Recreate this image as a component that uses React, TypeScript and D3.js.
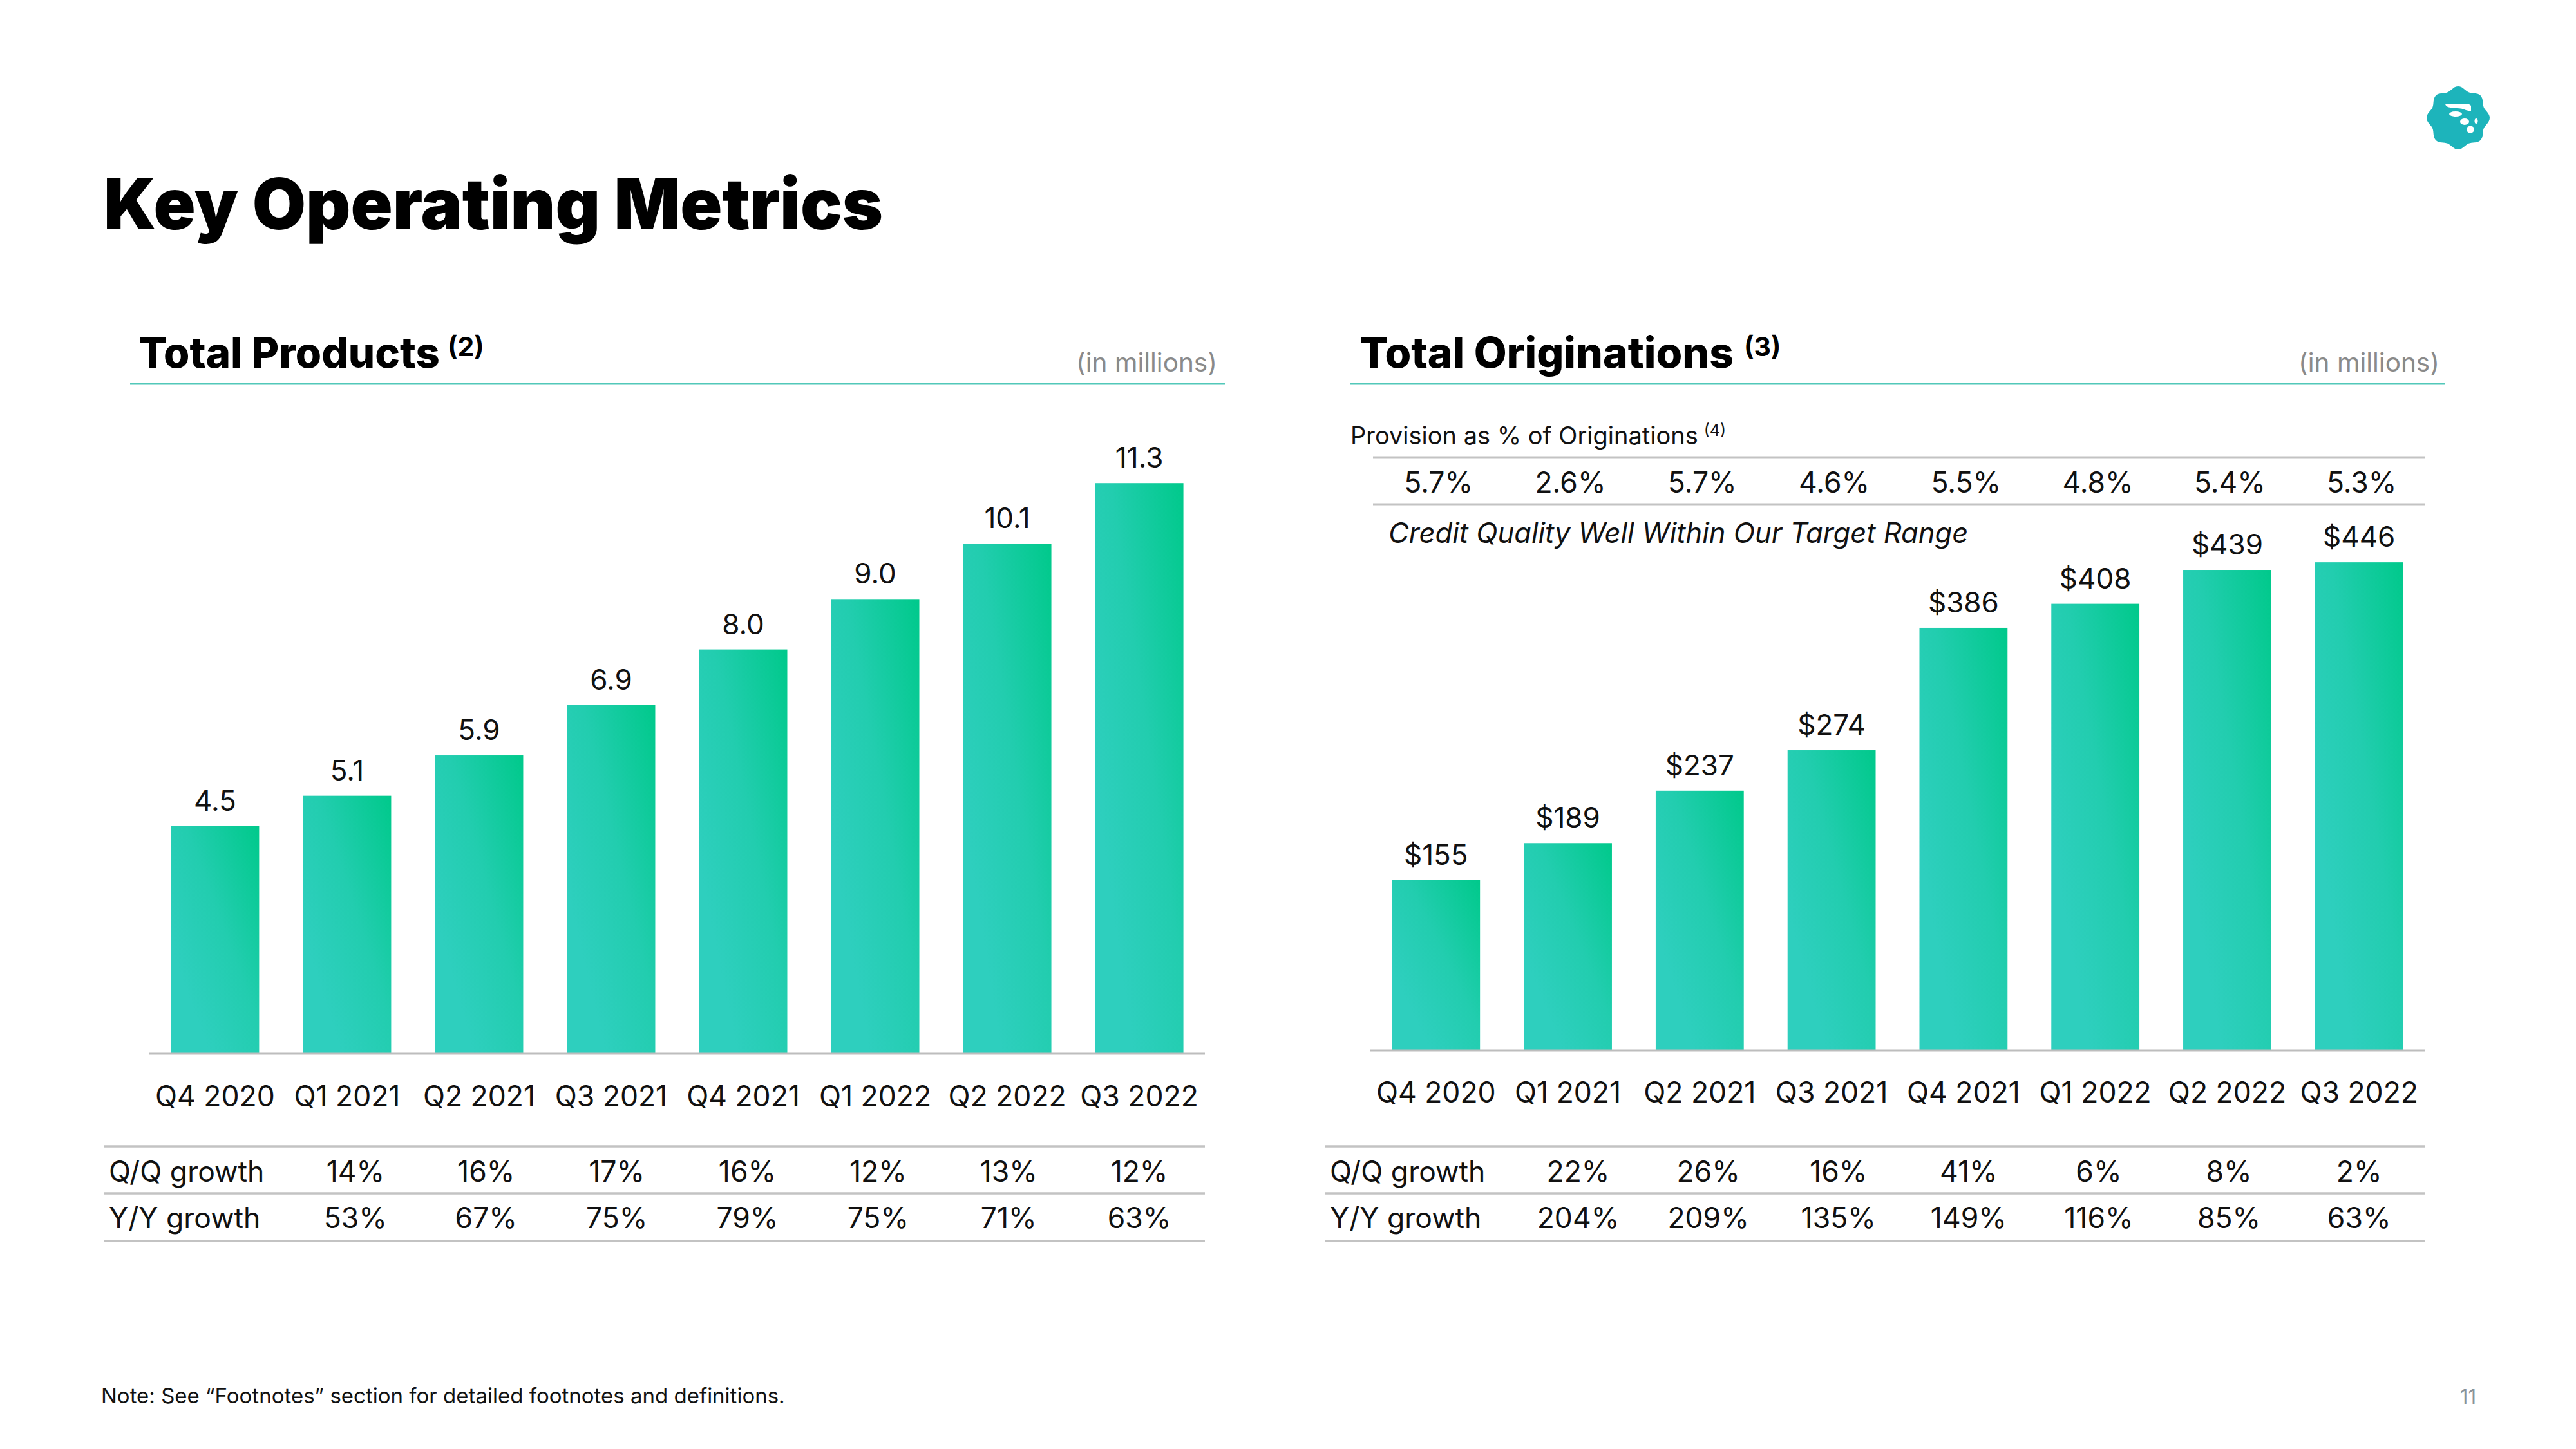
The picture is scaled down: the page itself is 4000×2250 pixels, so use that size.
import React from "react";
import * as d3 from "d3";

const categories = ["Q4 2020", "Q1 2021", "Q2 2021", "Q3 2021", "Q4 2021", "Q1 2022", "Q2 2022", "Q3 2022"];
const totalProducts = [4.5, 5.1, 5.9, 6.9, 8.0, 9.0, 10.1, 11.3];
const totalOriginations = [155, 189, 237, 274, 386, 408, 439, 446];
const provisionPct = [5.7, 2.6, 5.7, 4.6, 5.5, 4.8, 5.4, 5.3];
const productsQoQ = [14, 16, 17, 16, 12, 13, 12];
const productsYoY = [53, 67, 75, 79, 75, 71, 63];
const originationsQoQ = [22, 26, 16, 41, 6, 8, 2];
const originationsYoY = [204, 209, 135, 149, 116, 85, 63];
const growthRowLabels = ["Q/Q growth", "Y/Y growth"];

const FONT = "Inter, 'Noto Sans', sans-serif";
const TEXT = "#111111";
const GRID = "#c3c3c3";
const TEAL_LINE = "#52c8b9";

type PanelProps = {
  left: number;
  right: number;
  baseline: number;
  yMax: number;
  pxPerUnit: number;
  values: number[];
  fmt: (v: number) => string;
  labelY: number;
  qoq: number[];
  yoy: number[];
  tableLeft: number;
  firstColShift: number;
  gradId: string;
};

function Panel(p: PanelProps) {
  const x = d3.scaleBand<string>().domain(categories).range([p.left, p.right]).paddingInner(0.332).paddingOuter(0.163);
  const y = d3.scaleLinear().domain([0, p.yMax]).range([p.baseline, p.baseline - p.yMax * p.pxPerUnit]);
  const bw = x.bandwidth();
  const cx = (c: string) => (x(c) as number) + bw / 2;
  const tableCats = categories.slice(1);
  const col = d3
    .scalePoint<string>()
    .domain(tableCats)
    .range([cx(tableCats[0]) + p.firstColShift, cx(tableCats[tableCats.length - 1])]);
  const lineYs = [1780, 1853, 1927];
  const rowBaselines = [1835, 1907];
  const pct = (v: number) => `${v}%`;
  return (
    <g>
      {categories.map((c, i) => (
        <rect key={c} x={x(c)} y={y(p.values[i])} width={bw} height={p.baseline - y(p.values[i])} fill={`url(#${p.gradId})`} />
      ))}
      <line x1={p.left} x2={p.right} y1={p.baseline + 1} y2={p.baseline + 1} stroke="#bdbdbd" strokeWidth={3} />
      {categories.map((c, i) => (
        <text key={"v" + c} x={cx(c)} y={y(p.values[i]) - 24} textAnchor="middle" fontSize={44} fill={TEXT} fontFamily={FONT}>
          {p.fmt(p.values[i])}
        </text>
      ))}
      {categories.map((c) => (
        <text key={"c" + c} x={cx(c)} y={p.labelY} textAnchor="middle" fontSize={44.5} fill={TEXT} fontFamily={FONT}>
          {c}
        </text>
      ))}
      {lineYs.map((ly) => (
        <line key={ly} x1={p.tableLeft} x2={p.right} y1={ly} y2={ly} stroke={GRID} strokeWidth={3.5} />
      ))}
      {growthRowLabels.map((lab, r) => (
        <text key={lab} x={p.tableLeft + 8} y={rowBaselines[r]} fontSize={44.5} fill={TEXT} fontFamily={FONT}>
          {lab}
        </text>
      ))}
      {tableCats.map((c, i) => (
        <text key={"q" + c} x={col(c)} y={rowBaselines[0]} textAnchor="middle" fontSize={44.5} fill={TEXT} fontFamily={FONT}>
          {pct(p.qoq[i])}
        </text>
      ))}
      {tableCats.map((c, i) => (
        <text key={"y" + c} x={col(c)} y={rowBaselines[1]} textAnchor="middle" fontSize={44.5} fill={TEXT} fontFamily={FONT}>
          {pct(p.yoy[i])}
        </text>
      ))}
    </g>
  );
}

function Logo({ cx, cy }: { cx: number; cy: number }) {
  const angles = d3.range(0, 2 * Math.PI, Math.PI / 32);
  const path = d3
    .lineRadial<number>()
    .angle((a) => a)
    .radius((a) => 46 + 3 * Math.cos(8 * a))
    .curve(d3.curveCardinalClosed)(angles) as string;
  return (
    <g transform={`translate(${cx},${cy})`}>
      <path d={path} fill="#1db4bb" />
      <path d="M-20,-22 L8,-22 Q20,-22 20,-18 L20,-10 L12,-12 Q6,-15 -2,-15 L-12,-16 Q-20,-17 -20,-22 Z" fill="#fff" />
      <ellipse cx={-4} cy={-6} rx={10} ry={4} fill="#fff" />
      <ellipse cx={10} cy={6} rx={7} ry={5} fill="#fff" />
      <ellipse cx={19} cy={18} rx={6} ry={5.5} fill="#fff" />
      <ellipse cx={28} cy={5} rx={2.5} ry={4} fill="#fff" />
    </g>
  );
}

export default function App() {
  const fmt1 = d3.format(".1f");
  const fmtUsd = (v: number) => `$${v}`;
  const xr = d3.scaleBand<string>().domain(categories).range([2128, 3765]).paddingInner(0.332).paddingOuter(0.163);
  const xrc = (c: string) => (xr(c) as number) + xr.bandwidth() / 2;
  return (
    <svg width={4000} height={2250} style={{ position: "absolute", left: 0, top: 0, background: "#fff" }} fontFamily={FONT}>
      <defs>
        <linearGradient id="barGrad" x1="1" y1="0" x2="0.2" y2="0.75">
          <stop offset="0" stopColor="#00c98b" />
          <stop offset="0.55" stopColor="#22cdaf" />
          <stop offset="1" stopColor="#2ecfbe" />
        </linearGradient>
      </defs>
      <rect width={4000} height={2250} fill="#fff" />

      <text x={161} y={356} fontSize={110} fontWeight={900} fill="#000" textLength={1210} lengthAdjust="spacingAndGlyphs">
        Key Operating Metrics
      </text>
      <Logo cx={3817} cy={183} />

      {/* Left heading */}
      <text x={215} y={571} fontSize={66} fontWeight={800} fill="#000" textLength={468} lengthAdjust="spacingAndGlyphs">
        Total Products
      </text>
      <text x={695} y={553} fontSize={41} fontWeight={700} fill="#000">(2)</text>
      <text x={1890} y={577} fontSize={40.5} fill="#8a8a8a" textAnchor="end">(in millions)</text>
      <line x1={202} x2={1902} y1={596} y2={596} stroke={TEAL_LINE} strokeWidth={3} />

      {/* Right heading */}
      <text x={2111} y={571} fontSize={66} fontWeight={800} fill="#000" textLength={581} lengthAdjust="spacingAndGlyphs">
        Total Originations
      </text>
      <text x={2708} y={553} fontSize={41} fontWeight={700} fill="#000">(3)</text>
      <text x={3788} y={577} fontSize={40.5} fill="#8a8a8a" textAnchor="end">(in millions)</text>
      <line x1={2097} x2={3796} y1={596} y2={596} stroke={TEAL_LINE} strokeWidth={3} />

      <Panel
        left={232}
        right={1871}
        baseline={1635}
        yMax={12}
        pxPerUnit={78.3}
        values={totalProducts}
        fmt={fmt1}
        labelY={1718}
        qoq={productsQoQ}
        yoy={productsYoY}
        tableLeft={161}
        firstColShift={13}
        gradId="barGrad"
      />
      <Panel
        left={2128}
        right={3765}
        baseline={1630}
        yMax={500}
        pxPerUnit={1.697}
        values={totalOriginations}
        fmt={fmtUsd}
        labelY={1712}
        qoq={originationsQoQ}
        yoy={originationsYoY}
        tableLeft={2057}
        firstColShift={16}
        gradId="barGrad"
      />

      {/* Provision row */}
      <text x={2097} y={690} fontSize={38} fill={TEXT}>
        Provision as % of Originations
        <tspan dx={9} dy={-13} fontSize={25}>(4)</tspan>
      </text>
      <line x1={2132} x2={3765} y1={710} y2={710} stroke={GRID} strokeWidth={3} />
      <line x1={2132} x2={3765} y1={783} y2={783} stroke={GRID} strokeWidth={3} />
      {categories.map((c, i) => (
        <text key={"p" + c} x={xrc(c) + 4} y={765} textAnchor="middle" fontSize={44.5} fill={TEXT}>
          {d3.format(".1f")(provisionPct[i])}%
        </text>
      ))}
      <text x={2156} y={843} fontSize={43.5} fontStyle="italic" fill={TEXT}>
        Credit Quality Well Within Our Target Range
      </text>

      <text x={157} y={2179} fontSize={33} fill={TEXT}>
        Note: See “Footnotes” section for detailed footnotes and definitions.
      </text>
      <text x={3845} y={2180} fontSize={31} fill="#8a9399" textAnchor="end">11</text>
    </svg>
  );
}
